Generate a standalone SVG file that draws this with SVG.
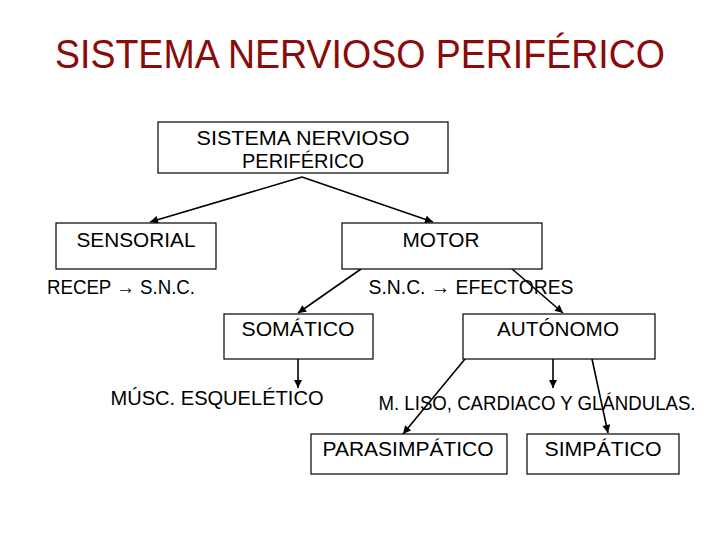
<svg xmlns="http://www.w3.org/2000/svg" width="720" height="540" viewBox="0 0 720 540">
<defs>
<marker id="ah" viewBox="0 0 10 10" refX="10" refY="5" markerWidth="9" markerHeight="8" markerUnits="userSpaceOnUse" orient="auto">
<path d="M0,0 L10,5 L0,10 Z" fill="#000"/>
</marker>
<style>
.box{fill:#fff;stroke:#000;stroke-width:1.2}
.t{font-family:"Liberation Sans",Arial,sans-serif;font-size:20px;fill:#000;text-anchor:middle}
.c{stroke:#000;stroke-width:1.6;fill:none;marker-end:url(#ah)}
.title{font-family:"Liberation Sans",Arial,sans-serif;font-size:40px;fill:#8b0a0a;text-anchor:middle}
</style>
</defs>
<rect width="720" height="540" fill="#fff"/>
<text class="title" x="360" y="68" textLength="610" lengthAdjust="spacingAndGlyphs">SISTEMA NERVIOSO PERIFÉRICO</text>

<g id="connectors">
<line class="c" x1="302" y1="177" x2="150" y2="222"/>
<line class="c" x1="302" y1="177" x2="433" y2="222"/>
<line class="c" x1="361" y1="269" x2="298" y2="313"/>
<line class="c" x1="511" y1="268" x2="563" y2="313"/>
<line class="c" x1="298" y1="359" x2="298" y2="388"/>
<line class="c" x1="465" y1="359" x2="403" y2="434"/>
<line class="c" x1="553" y1="359" x2="553" y2="388"/>
<line class="c" x1="592" y1="359" x2="608" y2="433"/>
</g>

<g id="snp">
<rect class="box" x="158" y="122" width="290" height="51"/>
<text class="t" x="303" y="145" textLength="213" lengthAdjust="spacingAndGlyphs">SISTEMA NERVIOSO</text>
<text class="t" x="303" y="168" textLength="122" lengthAdjust="spacingAndGlyphs">PERIFÉRICO</text>
</g>
<g id="sensorial">
<rect class="box" x="56" y="223" width="160" height="46"/>
<text class="t" x="136" y="247" textLength="119" lengthAdjust="spacingAndGlyphs">SENSORIAL</text>
</g>
<g id="motor">
<rect class="box" x="342" y="223" width="200" height="46"/>
<text class="t" x="441" y="247" textLength="77" lengthAdjust="spacingAndGlyphs">MOTOR</text>
</g>
<g id="recep">
<text class="t" x="121" y="294" textLength="148" lengthAdjust="spacingAndGlyphs">RECEP → S.N.C.</text>
</g>
<g id="efectores">
<text class="t" x="471" y="294" textLength="205" lengthAdjust="spacingAndGlyphs">S.N.C. → EFECTORES</text>
</g>
<g id="somatico">
<rect class="box" x="224" y="314" width="149" height="45"/>
<text class="t" x="298" y="336" textLength="113" lengthAdjust="spacingAndGlyphs">SOMÁTICO</text>
</g>
<g id="autonomo">
<rect class="box" x="463" y="314" width="192" height="45"/>
<text class="t" x="558" y="336" textLength="122" lengthAdjust="spacingAndGlyphs">AUTÓNOMO</text>
</g>
<g id="musc">
<text class="t" x="217" y="405" textLength="213" lengthAdjust="spacingAndGlyphs">MÚSC. ESQUELÉTICO</text>
</g>
<g id="liso">
<text class="t" x="537" y="410" textLength="317" lengthAdjust="spacingAndGlyphs">M. LISO, CARDIACO Y GLÁNDULAS.</text>
</g>
<g id="parasimpatico">
<rect class="box" x="311" y="434" width="196" height="40"/>
<text class="t" x="408" y="456" textLength="171" lengthAdjust="spacingAndGlyphs">PARASIMPÁTICO</text>
</g>
<g id="simpatico">
<rect class="box" x="527" y="434" width="152" height="40"/>
<text class="t" x="603" y="456" textLength="117" lengthAdjust="spacingAndGlyphs">SIMPÁTICO</text>
</g>
</svg>
